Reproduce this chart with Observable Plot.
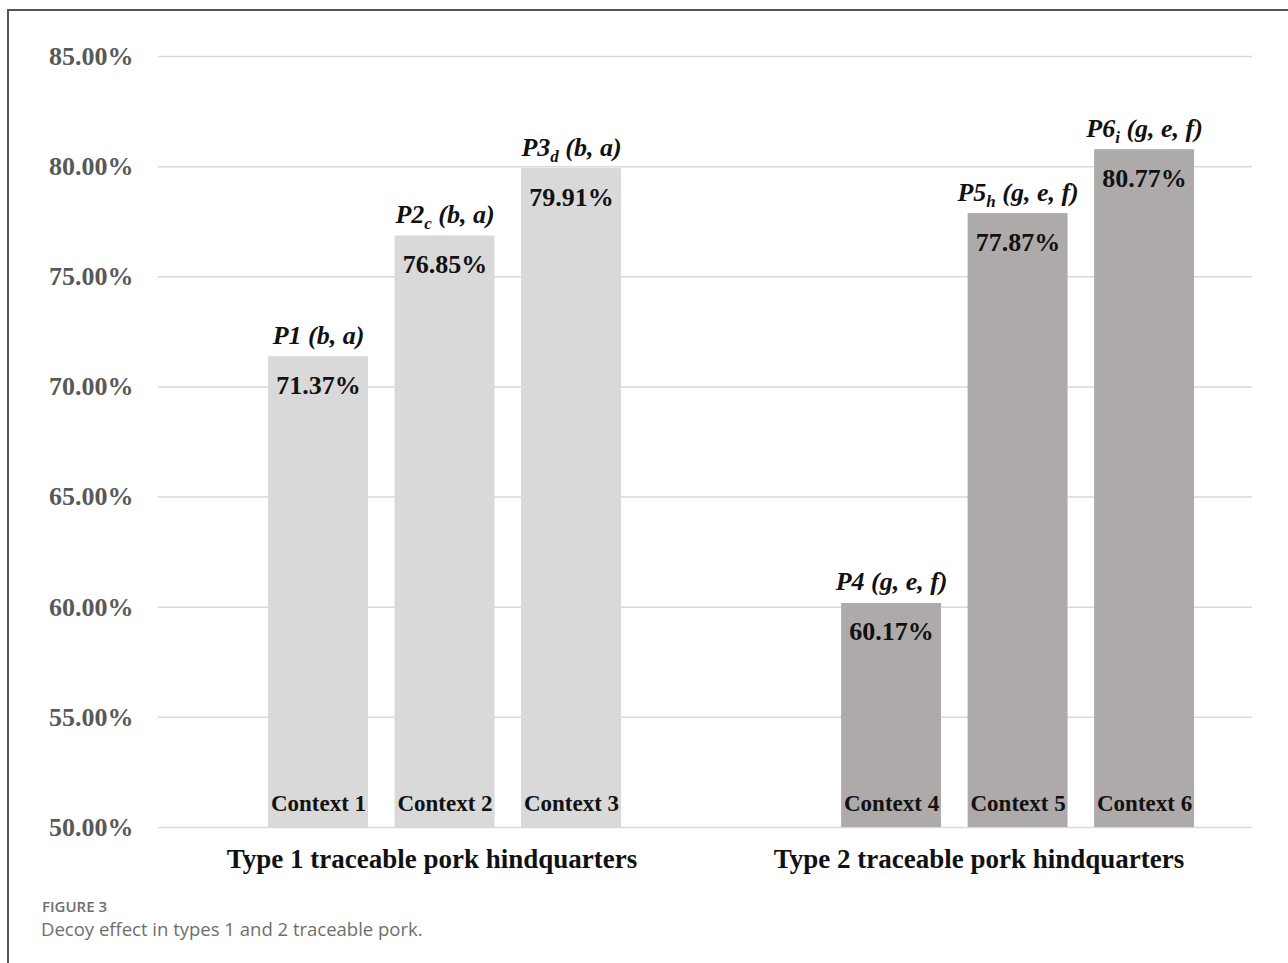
<!DOCTYPE html>
<html>
<head>
<meta charset="utf-8">
<script src="https://cdn.jsdelivr.net/npm/d3@7"></script>
<script src="https://cdn.jsdelivr.net/npm/@observablehq/plot@0.6"></script>
<style>
  html, body { margin: 0; padding: 0; background: #fff; width: 1288px; height: 963px; overflow: hidden; }
  #frame { position: absolute; left: 7px; top: 9px; width: 1400px; height: 1100px;
           border-top: 2px solid #555; border-left: 2px solid #555; }
  #chart { position: absolute; left: 0; top: 0; }
  #fig { position: absolute; left: 42px; top: 899px; font-family: "Open Sans", "Noto Sans", sans-serif;
         font-size: 15px; line-height: 15px; font-weight: 600; color: #6e6e6e; white-space: nowrap; }
  #cap { position: absolute; left: 41px; top: 919.5px; font-family: "Open Sans", "Noto Sans", sans-serif;
         font-size: 18.5px; line-height: 18.5px; color: #6e6e6e; white-space: nowrap; }
</style>
</head>
<body>
<div id="frame"></div>
<div id="chart"></div>
<div id="fig">FIGURE 3</div>
<div id="cap">Decoy effect in types 1 and 2 traceable pork.</div>
<script>
// ---- data ----
const contexts = ["Context 1", "Context 2", "Context 3", "Context 4", "Context 5", "Context 6"];
const groups = ["Type 1 traceable pork hindquarters", "Type 2 traceable pork hindquarters"];
const groupOf = [0, 0, 0, 1, 1, 1];
const values = [71.37, 76.85, 79.91, 60.17, 77.87, 80.77];
const topLabels = ["P1 (b, a)", "P2_c (b, a)", "P3_d (b, a)", "P4 (g, e, f)", "P5_h (g, e, f)", "P6_i (g, e, f)"];
const yTicks = [50, 55, 60, 65, 70, 75, 80, 85];
const groupColors = ["#d9d9d9", "#aeaaaa"];

// ---- layout ----
const groupGap = 1.53;       // extra slot spacing between the two groups
const barHalf = 0.395;       // half bar width in slot units
const xDomain = [-1.265, 7.383];
const serif = "'Liberation Serif', 'Times New Roman', serif";

const data = contexts.map((c, i) => ({
  context: c,
  group: groups[groupOf[i]],
  value: values[i],
  label: topLabels[i],
  pos: i + groupOf[i] * groupGap
}));
const span = xDomain[1] - xDomain[0];
const groupData = groups.map((g, i) => ({ name: g, pos: xDomain[0] + span * (0.25 + 0.5 * i) }));
const base = () => yTicks[0];

const chart = Plot.plot({
  width: 1288,
  height: 890,
  marginLeft: 158,
  marginRight: 36,
  marginTop: 56,
  marginBottom: 63,
  style: { fontFamily: serif, fontSize: "26px", fontWeight: "bold", color: "#595959", background: "transparent" },
  x: { domain: xDomain, axis: null },
  y: {
    domain: [yTicks[0], yTicks[yTicks.length - 1]],
    ticks: yTicks,
    tickFormat: d => d.toFixed(2) + "%",
    tickSize: 0,
    tickPadding: 25,
    label: null
  },
  color: { domain: groups, range: groupColors },
  marks: [
    Plot.ruleY(yTicks, { stroke: "#d9d9d9", strokeWidth: 1.5 }),
    Plot.rect(data, {
      x1: d => d.pos - barHalf,
      x2: d => d.pos + barHalf,
      y1: base,
      y2: "value",
      fill: "group"
    }),
    Plot.text(data, {
      x: "pos", y: "value", text: d => d.value.toFixed(2) + "%",
      dy: 37, lineAnchor: "bottom", fill: "#111", fontSize: 26, fontWeight: "bold", fontFamily: serif
    }),
    Plot.text(data, {
      x: "pos", y: "value", text: "label",
      dy: -13, lineAnchor: "bottom", fill: "#111", fontSize: 26, fontWeight: "bold",
      fontStyle: "italic", fontFamily: serif
    }),
    Plot.text(data, {
      x: "pos", y: base, text: "context",
      dy: -17, lineAnchor: "bottom", fill: "#111", fontSize: 23, fontWeight: "bold", fontFamily: serif
    }),
    Plot.text(groupData, {
      x: "pos", y: base, text: "name",
      dy: 40, lineAnchor: "bottom", fill: "#111", fontSize: 27, fontWeight: "bold", fontFamily: serif
    })
  ]
});

document.getElementById("chart").appendChild(chart);

// y-axis tick label styling
d3.select(chart).selectAll('[aria-label^="y-axis"] text')
  .attr("font-size", 26).attr("font-family", serif).attr("font-weight", "bold").attr("fill", "#595959");
d3.select(chart).selectAll('[aria-label^="y-axis"]')
  .attr("font-size", 26).attr("font-family", serif).attr("font-weight", "bold");

// subscripts in top labels
d3.select(chart).selectAll("text").each(function () {
  const t = this.textContent;
  if (!t.includes("_")) return;
  const m = t.match(/^(\S+?)_(\S+)(.*)$/);
  if (!m) return;
  const sel = d3.select(this);
  sel.text(null);
  sel.append("tspan").text(m[1]);
  sel.append("tspan").attr("font-size", 17).attr("dy", 6).text(m[2]);
  sel.append("tspan").attr("dy", -6).text(m[3]);
});
</script>
</body>
</html>
